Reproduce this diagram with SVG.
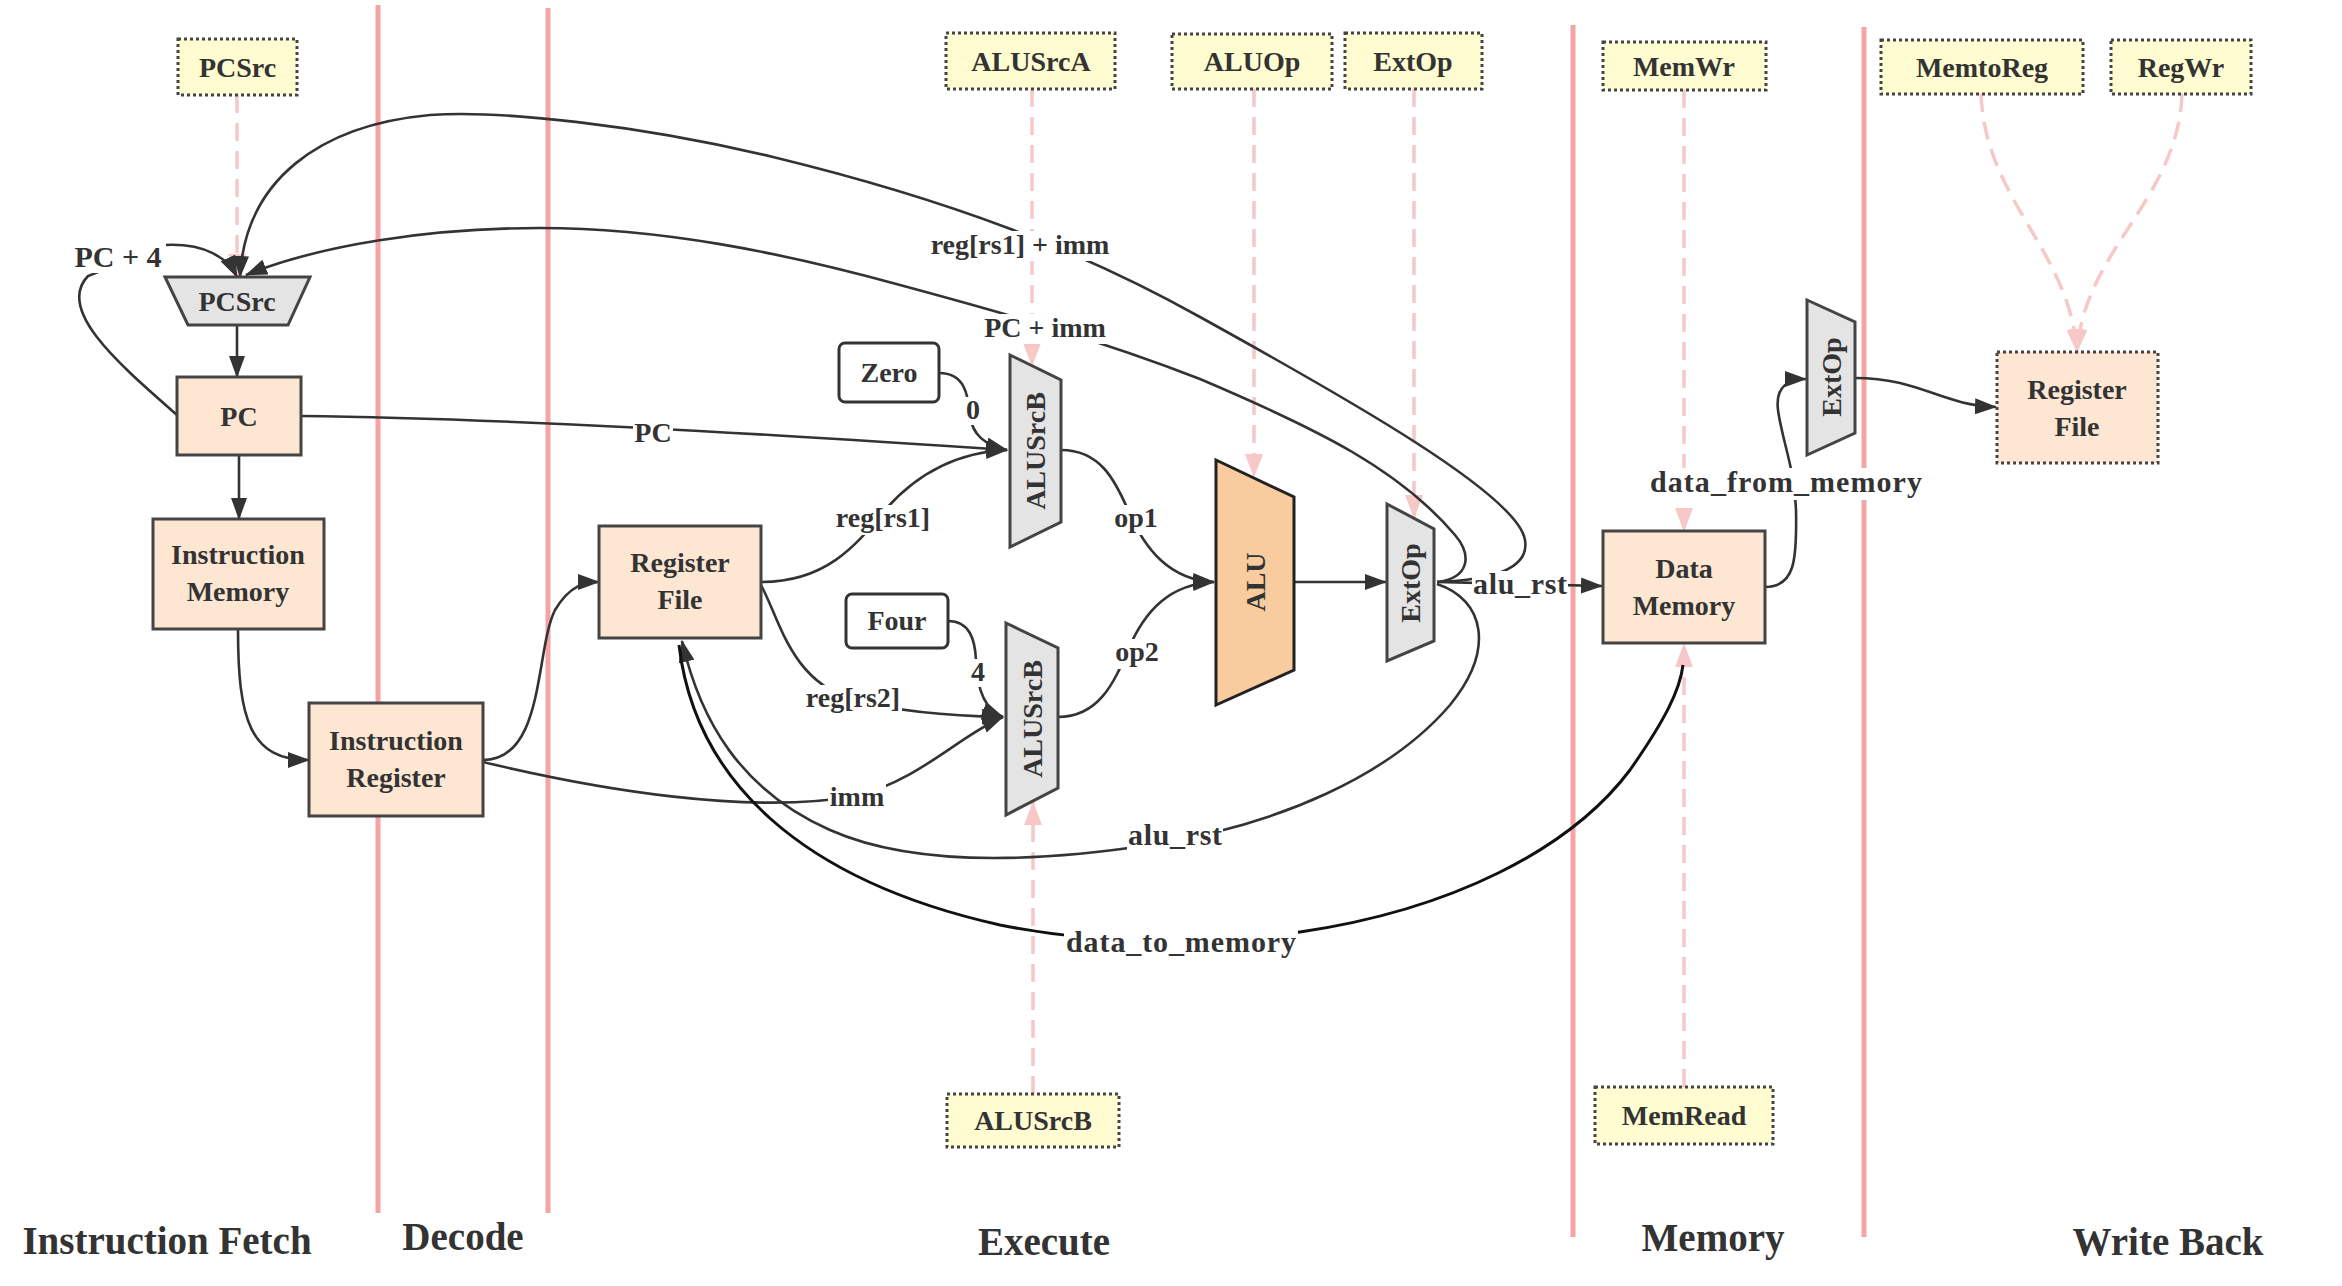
<svg xmlns="http://www.w3.org/2000/svg" width="2342" height="1286" viewBox="0 0 2342 1286">
<style>
text{font-family:"Liberation Serif","Times New Roman",serif;font-weight:bold;fill:#333;font-size:28px;text-anchor:middle}
.stage{font-size:39px}
.big{font-size:30px}
.bg{fill:#fff}
.node{fill:#fde6d2;stroke:#444;stroke-width:3}
.dnode{fill:#fde6d2;stroke:#444;stroke-width:3;stroke-dasharray:3 3}
.ctrl{fill:#fefcd0;stroke:#444;stroke-width:3;stroke-dasharray:3 3}
.mux{fill:#e4e4e4;stroke:#444;stroke-width:3}
.alu{fill:#f8cc9e;stroke:#222;stroke-width:3}
.const{fill:#fff;stroke:#333;stroke-width:3}
.sep{stroke:#f4a4a4;stroke-width:5;fill:none}
.e{fill:none;stroke:#333;stroke-width:2.6}
.eb{fill:none;stroke:#111;stroke-width:3}
.ctl{fill:none;stroke:#f6c8c8;stroke-width:3.5;stroke-dasharray:18 10}
</style>
<defs>
<marker id="ah" markerUnits="userSpaceOnUse" markerWidth="22" markerHeight="16" refX="21" refY="8" orient="auto"><path d="M0,0 L22,8 L0,16 Z" fill="#333"/></marker>
<marker id="ap" markerUnits="userSpaceOnUse" markerWidth="24" markerHeight="18" refX="23" refY="9" orient="auto"><path d="M0,0 L24,9 L0,18 Z" fill="#f6c8c8"/></marker>
</defs>
<rect width="2342" height="1286" fill="#fff"/>
<g id="separators">
<line class="sep" x1="378" y1="5" x2="378" y2="1213"/>
<line class="sep" x1="548" y1="8" x2="548" y2="1213"/>
<line class="sep" x1="1573" y1="25" x2="1573" y2="1237"/>
<line class="sep" x1="1864" y1="27" x2="1864" y2="1237"/>
</g>
<g id="stages">
<text class="stage" x="167" y="1254">Instruction Fetch</text>
<text class="stage" x="463" y="1250">Decode</text>
<text class="stage" x="1044" y="1255">Execute</text>
<text class="stage" x="1713" y="1251">Memory</text>
<text class="stage" x="2168" y="1255">Write Back</text>
</g>
<g id="control-connectors">
<path class="ctl" d="M237,95 L237,277" marker-end="url(#ap)"/>
<path class="ctl" d="M1032,89 L1032,366" marker-end="url(#ap)"/>
<path class="ctl" d="M1254,89 L1254,477" marker-end="url(#ap)"/>
<path class="ctl" d="M1414,89 L1414,518" marker-end="url(#ap)"/>
<path class="ctl" d="M1684,90 L1684,531" marker-end="url(#ap)"/>
<path class="ctl" d="M1981,94 C1985,200 2070,250 2077,352" marker-end="url(#ap)"/>
<path class="ctl" d="M2182,94 C2178,200 2084,250 2077,352" marker-end="url(#ap)"/>
<path class="ctl" d="M1033,1094 L1033,802" marker-end="url(#ap)"/>
<path class="ctl" d="M1684,1087 L1684,644" marker-end="url(#ap)"/>
</g>
<g id="connectors">
<path class="e" d="M177,415 C120,365 55,310 88,276 L165,245 C205,243 228,258 237,277" marker-end="url(#ah)"/>
<path class="e" d="M1437,582 C1490,580 1530,570 1525,540 C1518,495 1350,400 1200,317 C1080,250 950,200 773,157 C640,125 500,110 430,115 C320,125 245,180 240,277" marker-end="url(#ah)"/>
<path class="e" d="M1437,582 C1470,578 1472,555 1455,535 C1400,470 1320,430 1200,379 C1100,340 1000,312 900,285 C780,252 660,228 540,228 C430,228 320,245 246,275" marker-end="url(#ah)"/>
<path class="e" d="M237,325 L237,377" marker-end="url(#ah)"/>
<path class="e" d="M239,455 L239,519" marker-end="url(#ah)"/>
<path class="e" d="M238,629 C238,720 250,760 309,760" marker-end="url(#ah)"/>
<path class="e" d="M483,760 C545,760 535,650 555,610 C570,585 585,582 599,582" marker-end="url(#ah)"/>
<path class="e" d="M301,416 C500,418 800,436 1007,450" marker-end="url(#ah)"/>
<path class="e" d="M939,373 C965,373 968,395 970,415 C972,435 985,445 1007,450" marker-end="url(#ah)"/>
<path class="e" d="M761,582 C830,582 860,540 885,510 C920,470 960,452 1007,450" marker-end="url(#ah)"/>
<path class="e" d="M761,585 C780,620 790,680 853,700 C900,712 950,716 1003,717" marker-end="url(#ah)"/>
<path class="e" d="M948,621 C970,621 975,640 976,660 C977,690 985,710 1003,717" marker-end="url(#ah)"/>
<path class="e" d="M483,762 C600,790 750,815 856,796 C920,780 960,735 1003,717" marker-end="url(#ah)"/>
<path class="e" d="M1061,450 C1100,450 1115,480 1128,510 C1145,550 1170,580 1214,582" marker-end="url(#ah)"/>
<path class="e" d="M1058,717 C1100,717 1115,680 1128,650 C1145,610 1170,584 1214,582" marker-end="url(#ah)"/>
<path class="e" d="M1294,582 L1386,582" marker-end="url(#ah)"/>
<path class="e" d="M1437,582 L1602,586" marker-end="url(#ah)"/>
<path class="e" d="M1437,584 C1485,600 1495,650 1450,705 C1390,775 1280,825 1150,845 C1050,860 920,870 830,830 C740,790 700,720 682,641" marker-end="url(#ah)"/>
<path class="eb" d="M679,645 C695,780 800,880 1000,925 C1100,945 1200,945 1300,932 C1450,910 1570,850 1630,770 C1665,720 1680,690 1683,665"/>
<path class="e" d="M1765,587 C1795,587 1797,560 1796,510 C1795,470 1782,440 1778,410 C1775,385 1790,379 1806,379" marker-end="url(#ah)"/>
<path class="e" d="M1855,378 C1920,378 1940,405 1996,407" marker-end="url(#ah)"/>
</g>
<g id="edge-labels">
<rect class="bg" x="70" y="242" width="96" height="31"/><text class="big" x="118" y="267">PC + 4</text>
<rect class="bg" x="928" y="231" width="184" height="30"/><text x="1020" y="254">reg[rs1] + imm</text>
<rect class="bg" x="982" y="314" width="126" height="30"/><text x="1045" y="337">PC + imm</text>
<rect class="bg" x="633" y="420" width="40" height="28"/><text x="653" y="442">PC</text>
<rect class="bg" x="965" y="397" width="16" height="28"/><text x="973" y="419">0</text>
<rect class="bg" x="970" y="659" width="16" height="28"/><text x="978" y="681">4</text>
<rect class="bg" x="834" y="505" width="98" height="30"/><text x="883" y="527">reg[rs1]</text>
<rect class="bg" x="804" y="685" width="98" height="30"/><text x="853" y="707">reg[rs2]</text>
<rect class="bg" x="828" y="784" width="58" height="28"/><text x="857" y="806">imm</text>
<rect class="bg" x="1113" y="505" width="46" height="30"/><text x="1136" y="527">op1</text>
<rect class="bg" x="1114" y="639" width="46" height="30"/><text x="1137" y="661">op2</text>
<rect class="bg" x="1472" y="571" width="96" height="31"/><text class="big" x="1520" y="594" textLength="94" lengthAdjust="spacing">alu_rst</text>
<rect class="bg" x="1127" y="822" width="96" height="31"/><text class="big" x="1175" y="845" textLength="94" lengthAdjust="spacing">alu_rst</text>
<rect class="bg" x="1064" y="928" width="234" height="32"/><text class="big" x="1181" y="952" textLength="230" lengthAdjust="spacing">data_to_memory</text>
<rect class="bg" x="1648" y="468" width="276" height="32"/><text class="big" x="1786" y="492" textLength="272" lengthAdjust="spacing">data_from_memory</text>
</g>
<g id="ctrl-pcsrc"><rect class="ctrl" x="178" y="39" width="119" height="56"/><text x="237.5" y="77">PCSrc</text></g>
<g id="ctrl-alusrca"><rect class="ctrl" x="946" y="33" width="169" height="56"/><text x="1031" y="71">ALUSrcA</text></g>
<g id="ctrl-aluop"><rect class="ctrl" x="1172" y="34" width="160" height="55"/><text x="1252" y="71">ALUOp</text></g>
<g id="ctrl-extop"><rect class="ctrl" x="1345" y="33" width="137" height="56"/><text x="1413" y="71">ExtOp</text></g>
<g id="ctrl-memwr"><rect class="ctrl" x="1603" y="42" width="163" height="48"/><text x="1684" y="76">MemWr</text></g>
<g id="ctrl-memtoreg"><rect class="ctrl" x="1881" y="40" width="202" height="54"/><text x="1982" y="77">MemtoReg</text></g>
<g id="ctrl-regwr"><rect class="ctrl" x="2111" y="40" width="140" height="54"/><text x="2181" y="77">RegWr</text></g>
<g id="ctrl-alusrcb"><rect class="ctrl" x="947" y="1094" width="172" height="53"/><text x="1033" y="1130">ALUSrcB</text></g>
<g id="ctrl-memread"><rect class="ctrl" x="1595" y="1087" width="178" height="57"/><text x="1684" y="1125">MemRead</text></g>
<g id="mux-pcsrc"><polygon class="mux" points="165,277 310,277 288,325 188,325"/><text x="237" y="311">PCSrc</text></g>
<g id="pc"><rect class="node" x="177" y="377" width="124" height="78"/><text x="239" y="426">PC</text></g>
<g id="instruction-memory"><rect class="node" x="153" y="519" width="171" height="110"/><text x="238" y="564">Instruction</text><text x="238" y="601">Memory</text></g>
<g id="instruction-register"><rect class="node" x="309" y="703" width="174" height="113"/><text x="396" y="750">Instruction</text><text x="396" y="787">Register</text></g>
<g id="register-file"><rect class="node" x="599" y="526" width="162" height="112"/><text x="680" y="572">Register</text><text x="680" y="609">File</text></g>
<g id="zero"><rect class="const" x="839" y="343" width="100" height="59" rx="6"/><text x="889" y="382">Zero</text></g>
<g id="four"><rect class="const" x="846" y="594" width="102" height="54" rx="6"/><text x="897" y="630">Four</text></g>
<g id="mux-alusrcb-1"><polygon class="mux" points="1010,355 1061,380 1061,522 1010,547"/><text transform="translate(1045,451) rotate(-90)">ALUSrcB</text></g>
<g id="mux-alusrcb-2"><polygon class="mux" points="1006,623 1058,648 1058,788 1006,815"/><text transform="translate(1042,719) rotate(-90)">ALUSrcB</text></g>
<g id="alu"><polygon class="alu" points="1216,460 1294,497 1294,670 1216,705"/><text transform="translate(1265,582) rotate(-90)">ALU</text></g>
<g id="extop-exec"><polygon class="mux" points="1387,504 1434,529 1434,641 1387,661"/><text transform="translate(1420,583) rotate(-90)">ExtOp</text></g>
<g id="data-memory"><rect class="node" x="1603" y="531" width="162" height="112"/><text x="1684" y="578">Data</text><text x="1684" y="615">Memory</text></g>
<g id="extop-wb"><polygon class="mux" points="1807,300 1855,322 1855,433 1807,455"/><text transform="translate(1841,377) rotate(-90)">ExtOp</text></g>
<g id="register-file-wb"><rect class="dnode" x="1997" y="352" width="161" height="111"/><text x="2077" y="399">Register</text><text x="2077" y="436">File</text></g>
</svg>
